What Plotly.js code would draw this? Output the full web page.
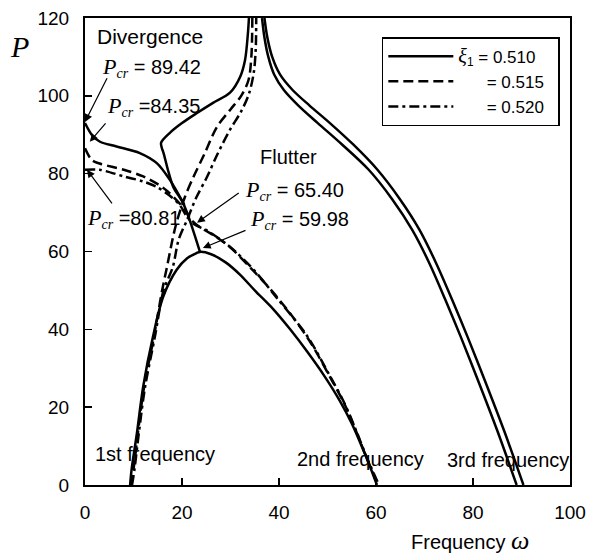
<!DOCTYPE html>
<html>
<head>
<meta charset="utf-8">
<script src="https://cdn.plot.ly/plotly-3.0.1.min.js"></script>
<style>html,body{margin:0;padding:0;background:#fff;}#chart{width:589px;height:558px;}</style>
</head>
<body>
<div id="chart"></div>
<script>
// ---- data ----
// xi1 = 0.510 (solid)
const s510LowX  = [9.3, 9.6, 10.7, 12, 14, 16.1, 18.9, 21, 23, 23.7, 26, 29, 32, 35, 38.8, 42.3, 45.8, 49.2, 52.6, 55, 56.7, 58.5, 60.2];
const s510LowY  = [0, 3.9, 13.3, 25.3, 38, 48.3, 55.3, 58.2, 59.6, 59.9, 59.3, 57.2, 54, 50, 45.2, 40, 34.3, 28.3, 21.5, 15.8, 11, 5.6, 0];
const s510UpX   = [33.8, 33.6, 33, 32, 29.9, 26.4, 23.1, 20, 17.5, 15.7, 15.8, 16.2, 17.2, 18.2, 20.2, 21.6, 23.7];
const s510UpY   = [120, 116.2, 109.2, 104.9, 100.8, 98.2, 95.6, 93, 90.5, 88, 86.8, 85.3, 80.5, 76.6, 72.5, 68, 59.9];
const s510DivX  = [0, 1.5, 3.1, 6.5, 11.3, 14.8, 17.5, 19.6, 20.5];
const s510DivY  = [93, 89.8, 88.2, 87, 85.3, 82.7, 78.4, 74, 72];
const s510ThirdX = [36.5, 37, 37.8, 39, 41, 44, 48, 53, 58.5, 63.3, 67.5, 71, 74.3, 77.5, 81, 85, 89];
const s510ThirdY = [120, 115, 110, 105.5, 101.5, 97.5, 93, 87.5, 81, 73.5, 65.5, 57, 47.6, 38, 27, 14, 0];
// xi1 = 0.515 (dashed)
const s515UpX   = [0, 1.4, 3, 8, 12, 15, 17, 19, 20.5, 22, 24, 27, 30, 34, 39.6, 45.8, 50.5, 53.5, 56, 58, 60.4];
const s515UpY   = [86.5, 83.5, 82.6, 81, 79.3, 77.3, 75.5, 73, 71, 68, 66, 63.8, 61, 56, 48.3, 38, 27.8, 20.8, 13.5, 7.2, 0];
const s515FirstX = [9.5, 10, 10.9, 12.2, 14.2, 15.9, 16.9, 18.2, 19, 20.6, 22.3, 24.6, 27.2, 30, 32.2, 33.7, 34.3, 34.5];
const s515FirstY = [0, 4, 13.3, 25.3, 38, 50, 56, 64, 68, 74, 79, 85, 92, 96.5, 100, 104, 110, 120];
const s515ThirdX = [37, 37.6, 38.6, 40.2, 42.8, 46.3, 50.5, 55.3, 60.3, 64.9, 69, 72.4, 75.7, 78.9, 82.4, 86.4, 90.4];
const s515ThirdY = [120, 115, 110, 105.5, 101.5, 97.5, 93, 87.5, 81, 73.5, 65.5, 57, 47.6, 38, 27, 14, 0];
// xi1 = 0.520 (dash-dot)
const s520UpX   = [0, 3, 8, 12, 14.8, 17.5, 19.5, 21, 22.5, 25, 28, 31, 35, 39.6, 45.8, 50.5, 53.5, 56, 58, 60.6];
const s520UpY   = [81, 81, 79.3, 78, 76.6, 74.3, 72, 69, 67, 65.5, 63, 60, 55, 48, 38.3, 28, 21, 13.7, 7.4, 0];
const s520FirstX = [9.7, 10.2, 11.1, 12.4, 14.4, 16.2, 18.1, 19.3, 21, 23, 25.1, 27.3, 29.9, 32.2, 33.8, 34.8, 35.2, 35.3];
const s520FirstY = [0, 4, 13.3, 25.3, 38, 50, 56, 63, 68, 74, 79, 85, 91.3, 96, 100.5, 106, 112, 120];

const SANS = 'Liberation Sans, Arial, sans-serif';
const SERIF = 'Liberation Serif, Times New Roman, serif';
const NB = '\u00a0';
const legendNames = [
  '<span style="font-family:' + SERIF + ';font-size:20px"><i>ξ</i></span><sub>1</sub> = 0.510' + NB + NB,
  NB.repeat(6) + '= 0.515' + NB + NB,
  NB.repeat(6) + '= 0.520' + NB + NB
];
const xTicks = [0, 20, 40, 60, 80, 100];
const yTicks = [0, 20, 40, 60, 80, 100, 120];

// ---- styles ----
const LW = 2.5;
const SM = 0.9;
const solid = {color: '#000', width: LW, shape: 'spline', smoothing: SM};
const dashA = {color: '#000', width: LW, dash: '10px,5px', shape: 'spline', smoothing: SM};
const dashB = {color: '#000', width: LW, dash: '10px,4px,3px,4px', shape: 'spline', smoothing: SM};
function tr(x, y, line, name, show, group) {
  return {x: x, y: y, type: 'scatter', mode: 'lines', line: line, name: name,
          showlegend: show, legendgroup: group, hoverinfo: 'skip', cliponaxis: true};
}
const data = [
  tr(s510LowX, s510LowY, solid, legendNames[0], true, 'a'),
  tr(s510UpX, s510UpY, solid, legendNames[0], false, 'a'),
  tr(s510DivX, s510DivY, solid, legendNames[0], false, 'a'),
  tr(s510ThirdX, s510ThirdY, solid, legendNames[0], false, 'a'),
  tr(s515UpX, s515UpY, dashA, legendNames[1], true, 'b'),
  tr(s515FirstX, s515FirstY, dashA, legendNames[1], false, 'b'),
  tr(s515ThirdX, s515ThirdY, solid, legendNames[1], false, 'b'),
  tr(s520UpX, s520UpY, dashB, legendNames[2], true, 'c'),
  tr(s520FirstX, s520FirstY, dashB, legendNames[2], false, 'c')
];

function pcr(val) {
  return '<span style="font-family:' + SERIF + ';font-size:22px"><i>P</i></span><sub><span style="font-family:' + SERIF + '"><i>cr</i></span></sub> ' + val;
}
function lab(x, y, text, size) {
  return {x: x, y: y, xref: 'x', yref: 'y', text: text, showarrow: false, xanchor: 'left', yanchor: 'middle',
          font: {family: SANS, size: size || 20, color: '#000'}};
}
function arr(x, y, ax, ay) {
  return {x: x, y: y, ax: ax, ay: ay, xref: 'x', yref: 'y', axref: 'x', ayref: 'y', text: '',
          showarrow: true, arrowhead: 2, arrowsize: 1.3, arrowwidth: 1.2, arrowcolor: '#000', standoff: 0, startstandoff: 0};
}
const annotations = [
  lab(2.0, 115.2, 'Divergence', 21),
  lab(3.1, 107.3, pcr('= 89.42')),
  lab(4.1, 97.2, pcr('=84.35')),
  lab(0.1, 68.4, pcr('=80.81')),
  lab(35.7, 84.3, 'Flutter'),
  lab(32.6, 75.6, pcr('= 65.40')),
  lab(33.6, 68.2, pcr('= 59.98')),
  lab(1.6, 8, '1st frequency'),
  lab(43.3, 6.7, '2nd frequency'),
  lab(74.2, 6.4, '3rd frequency'),
  arr(0, 93.3, 4.7, 104.9),
  arr(1.0, 88.2, 4.5, 93.3),
  arr(0.4, 81, 5.8, 72),
  arr(23.1, 67.4, 32, 75.3),
  arr(24.3, 60.9, 33.4, 65.6),
  {xref: 'paper', yref: 'paper', x: 0.794, y: -0.118, text: 'Frequency <span style="font-family:' + SERIF + ';font-size:26px"><i>ω</i></span>',
   showarrow: false, xanchor: 'center', yanchor: 'middle', font: {family: SANS, size: 20, color: '#000'}},
  {xref: 'paper', yref: 'paper', x: -0.136, y: 0.938, text: '<i>P</i>',
   showarrow: false, xanchor: 'center', yanchor: 'middle', font: {family: SERIF, size: 30, color: '#000'}}
];

const axisCommon = {
  showline: true, linewidth: 2, linecolor: '#000', mirror: true, showgrid: false, zeroline: false,
  ticks: 'inside', ticklen: 7, tickwidth: 1.5, tickcolor: '#000',
  tickfont: {family: SANS, size: 19, color: '#000'}, fixedrange: true
};
const layout = {
  width: 589, height: 558,
  margin: {l: 85, r: 19, t: 18, b: 73},
  paper_bgcolor: '#fff', plot_bgcolor: '#fff',
  xaxis: Object.assign({}, axisCommon, {range: [0, 100], tickvals: xTicks, ticktext: xTicks.map(String), ticklabelstandoff: 9}),
  yaxis: Object.assign({}, axisCommon, {range: [0, 120], tickvals: yTicks, ticktext: yTicks.map(String), ticklabelstandoff: 10}),
  showlegend: true,
  legend: {x: 0.612, y: 0.959, xanchor: 'left', yanchor: 'top', bgcolor: '#fff', bordercolor: '#000', borderwidth: 1.5,
           font: {family: SANS, size: 17, color: '#000'}, itemwidth: 65, tracegroupgap: 0},
  annotations: annotations
};
Plotly.newPlot('chart', data, layout, {displayModeBar: false, staticPlot: true});
</script>
</body>
</html>
